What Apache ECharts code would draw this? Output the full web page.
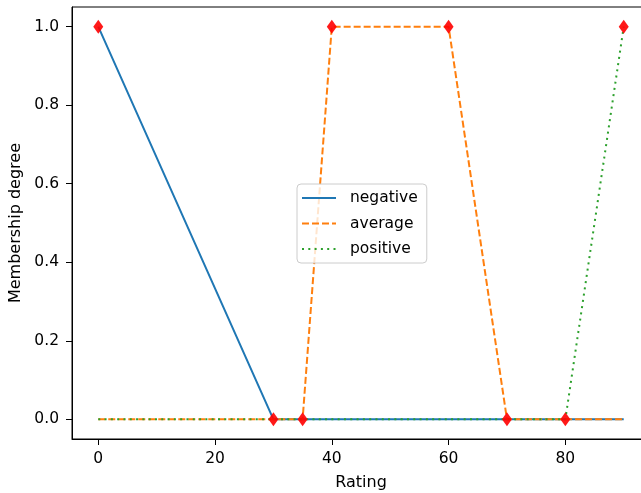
<!DOCTYPE html>
<html>
<head>
<meta charset="utf-8">
<script src="https://cdn.jsdelivr.net/npm/echarts@6/dist/echarts.min.js"></script>
<style>html,body{margin:0;padding:0;background:#fff;overflow:hidden}#c{width:650px;height:493px}</style>
</head>
<body>
<div id="c"></div>
<script>
var negativeX = [0, 30, 90];
var negativeY = [1, 0, 0];
var averageX = [0, 35, 40, 60, 70, 90];
var averageY = [0, 0, 1, 1, 0, 0];
var positiveX = [0, 80, 90];
var positiveY = [0, 0, 1];
var markerX = [0, 30, 35, 40, 60, 70, 80, 90];
var markerY = [1, 0, 0, 1, 1, 0, 0, 1];
var xTicks = [0, 20, 40, 60, 80];
var yTicks = [0, 0.2, 0.4, 0.6, 0.8, 1.0];

function pairs(xs, ys) { return xs.map(function (x, i) { return [x, ys[i]]; }); }

var FONT = 'DejaVu Sans';
var chart = echarts.init(document.getElementById('c'), null, { renderer: 'canvas' });
chart.setOption({
  animation: false,
  backgroundColor: '#fff',
  textStyle: { fontFamily: FONT },
  grid: { left: 72, top: 7, right: 0, bottom: 54, containLabel: false, outerBoundsMode: 'none',
    show: true, borderColor: '#000', borderWidth: 1, backgroundColor: 'transparent' },
  xAxis: {
    type: 'value', min: -4.5, max: 94.5,
    name: 'Rating', nameLocation: 'middle', nameGap: 36,
    nameTextStyle: { fontFamily: FONT, fontSize: 16, color: '#000' },
    axisLine: { show: true, onZero: false, lineStyle: { color: '#000', width: 1 } },
    axisTick: { show: true, length: 6, customValues: xTicks, lineStyle: { color: '#000' } },
    axisLabel: { customValues: xTicks, margin: 12, fontFamily: FONT, fontSize: 15.5, color: '#000' },
    splitLine: { show: false }
  },
  yAxis: {
    type: 'value', min: -0.05, max: 1.05,
    name: 'Membership degree', nameLocation: 'middle', nameGap: 44,
    nameTextStyle: { fontFamily: FONT, fontSize: 16, color: '#000' },
    axisLine: { show: true, onZero: false, lineStyle: { color: '#000', width: 1 } },
    axisTick: { show: true, length: 6, customValues: yTicks, lineStyle: { color: '#000' } },
    axisLabel: { customValues: yTicks, margin: 13, fontFamily: FONT, fontSize: 15.5, color: '#000',
      formatter: function (v) { return v.toFixed(1); } },
    splitLine: { show: false }
  },
  legend: {
    orient: 'vertical', left: 297, top: 184,
    data: ['negative', 'average', 'positive'],
    itemWidth: 34, itemHeight: 15, itemGap: 9.5,
    padding: [6, 9, 6, 4],
    backgroundColor: 'rgba(255,255,255,0.8)',
    borderColor: '#cccccc', borderWidth: 1, borderRadius: 4,
    itemStyle: { opacity: 0 },
    textStyle: { fontFamily: FONT, fontSize: 15.5, color: '#000', padding: [0, 0, 0, 9] }
  },
  series: [
    { name: 'negative', type: 'line', data: pairs(negativeX, negativeY), symbol: 'none', z: 2,
      color: '#1f77b4', lineStyle: { color: '#1f77b4', width: 2, type: 'solid' } },
    { name: 'average', type: 'line', data: pairs(averageX, averageY), symbol: 'none', z: 3,
      color: '#ff7f0e', lineStyle: { color: '#ff7f0e', width: 2, type: [7, 3] } },
    { name: 'positive', type: 'line', data: pairs(positiveX, positiveY), symbol: 'none', z: 4,
      color: '#2ca02c', lineStyle: { color: '#2ca02c', width: 2, type: [2, 4.3] } },
    { name: 'points', type: 'scatter', data: pairs(markerX, markerY), symbol: 'diamond',
      symbolSize: [10, 14], z: 5, itemStyle: { color: '#ff0000', opacity: 0.9 } }
  ]
});
</script>
</body>
</html>
